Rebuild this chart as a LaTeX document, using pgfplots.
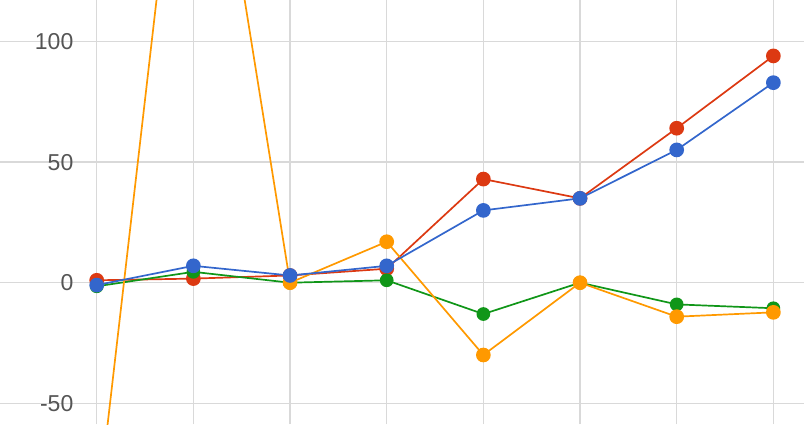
\documentclass[border=0pt]{standalone}
\usepackage{fontspec}
\setmainfont{Liberation Sans}
\usepackage{pgfplots}
\pgfplotsset{compat=1.18}
\definecolor{gred}{HTML}{DC3912}
\definecolor{gblue}{HTML}{3366CC}
\definecolor{gorange}{HTML}{FF9900}
\definecolor{ggreen}{HTML}{109618}
\definecolor{ggrid}{HTML}{D9D9D9}
\definecolor{glabel}{HTML}{555555}
\begin{document}
\begin{tikzpicture}
\begin{axis}[
  scale only axis,
  width=804pt, height=424pt,
  xmin=-1.0004, xmax=7.317,
  ymin=-58.63, ymax=117.3,
  axis line style={draw=none},
  major tick length=0pt,
  xtick={0,1,2,3,4,5,6,7},
  xticklabels={},
  ytick={-50,0,50,100},
  yticklabels={-50,0,50,100},
  grid=major,
  major grid style={ggrid, line width=1.4pt},
  yticklabel style={anchor=east, inner sep=0pt, xshift=73.5pt,
    font=\fontsize{23}{23}\selectfont, text=glabel},
  clip=true,
]
\addplot[gred, line width=1.7pt, mark=*, mark size=6.5pt, mark options={draw=none, fill=gred}]
  coordinates {(0,1) (1,1.7) (2,3) (3,5.8) (4,43) (5,35) (6,64.1) (7,94.1)};
\addplot[ggreen, line width=1.7pt, mark=*, mark size=6pt, mark options={draw=none, fill=ggreen}]
  coordinates {(0,-1.5) (1,4.5) (2,0) (3,1) (4,-13) (5,0) (6,-9) (7,-10.6)};
\addplot[gorange, line width=1.7pt, mark=*, mark size=6.5pt, mark options={draw=none, fill=gorange}]
  coordinates {(0,-98) (1,250) (2,0) (3,17) (4,-30) (5,0) (6,-14.1) (7,-12.3)};
\addplot[gblue, line width=1.7pt, mark=*, mark size=6.5pt, mark options={draw=none, fill=gblue}]
  coordinates {(0,-1) (1,7) (2,3) (3,7) (4,30) (5,35) (6,55.1) (7,83)};
\end{axis}
\pgfresetboundingbox
\useasboundingbox (current axis.south west) rectangle (current axis.north east);
\end{tikzpicture}
\end{document}
